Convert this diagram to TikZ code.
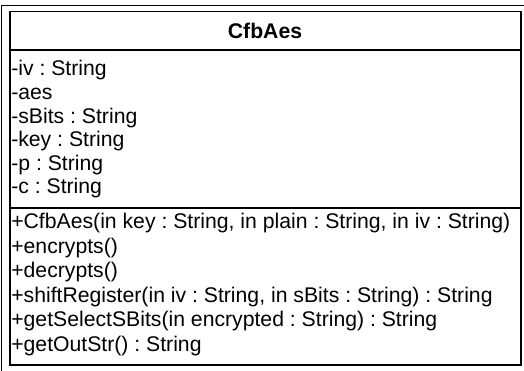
\documentclass[tikz,border=0pt]{standalone}
\usepackage{fontspec}
\setmainfont{Liberation Sans}
\frenchspacing
\begin{document}
\begin{tikzpicture}[x=1pt,y=-1pt,line width=1.6pt,
  member/.style={anchor=base west,inner sep=0pt,font=\fontsize{21.2}{24}\selectfont\frenchspacing},
  classtitle/.style={anchor=base,inner sep=0pt,font=\fontsize{21.2}{24}\selectfont\bfseries}]
\useasboundingbox (0,0) rectangle (524,371);
% outer frame
\coordinate (fbl) at (1.5,371);
\coordinate (ftl) at (1.5,5.5);
\coordinate (ftr) at (524,5.5);
\draw (fbl) -- (ftl) -- (ftr);
% class box
\coordinate (btl) at (9.8,11.5);
\coordinate (bbr) at (521,365);
\draw (btl) rectangle (bbr);
\coordinate (s1l) at (9.8,50);
\coordinate (s1r) at (521,50);
\coordinate (s2l) at (9.8,208);
\coordinate (s2r) at (521,208);
\draw (s1l) -- (s1r);
\draw (s2l) -- (s2r);
% title
\node[classtitle] (name) at (265,38.6) {CfbAes};
% attributes
\node[member] (a1) at (10.5,76) {-iv : String};
\node[member] (a2) at (10.5,99.6) {-aes};
\node[member] (a3) at (10.5,123.2) {-sBits : String};
\node[member] (a4) at (10.5,146.8) {-key : String};
\node[member] (a5) at (10.5,170.4) {-p : String};
\node[member] (a6) at (10.5,194) {-c : String};
% operations
\node[member] (o1) at (10.5,229) {+CfbAes(in key : String, in plain : String, in iv : String)};
\node[member] (o2) at (10.5,253.4) {+encrypts()};
\node[member] (o3) at (10.5,277.8) {+decrypts()};
\node[member] (o4) at (10.5,302.2) {+shiftRegister(in iv : String, in sBits : String) : String};
\node[member] (o5) at (10.5,326.6) {+getSelectSBits(in encrypted : String) : String};
\node[member] (o6) at (10.5,351) {+getOutStr() : String};
\end{tikzpicture}
\end{document}
